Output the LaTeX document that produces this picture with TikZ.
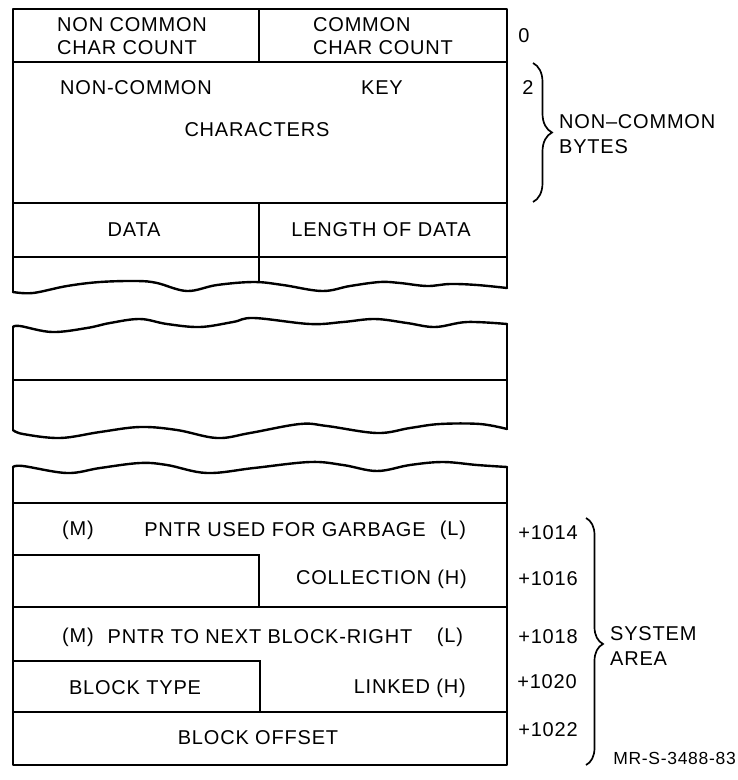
\documentclass[tikz,border=0pt]{standalone}
\usepackage{fontspec}
\setmainfont{Liberation Sans}[LetterSpace=4]
\usetikzlibrary{decorations.pathreplacing}

\newcommand{\lblfont}{\fontsize{20}{23}\selectfont}
\tikzset{
  frame/.style={line width=2.4pt, line cap=round, line join=round},
  rule/.style={line width=1.6pt},
  lbl/.style={font=\lblfont, inner sep=0pt},
  note/.style={lbl, align=left, anchor=west},
  bracer/.style={line width=1.7pt, decorate, decoration={brace, amplitude=#1}},
}

\begin{document}
\begin{tikzpicture}[x=1pt, y=-1pt]
\useasboundingbox (0,0) rectangle (738,780);

% upper piece of the block
\draw[frame] (13,292) -- (13,9) -- (507,9) -- (507,288);
\draw[frame] plot[smooth, tension=.6] coordinates {(13,292) (33,293) (67,286) (100,282) (137,281) (157,283) (187,291) (217,285) (254,282) (283,285) (322,291) (350,286) (380,282) (400,283) (427,286) (450,284) (477,285) (507,288)};
\draw[rule] (13,62) -- (507,62);
\draw[rule] (259,9) -- (259,62);
\draw[rule] (13,203) -- (507,203);
\draw[rule] (13,257) -- (507,257);
\draw[rule] (259,203) -- (259,283);

\node[note] (ncount) at (57,36.5) {NON COMMON\\CHAR COUNT};
\node[note] (ccount) at (313,36.5) {COMMON\\CHAR COUNT};
\node[lbl] (nckey) at (136,88) {NON-COMMON};
\node[lbl] (key) at (382,88) {KEY};
\node[lbl] (chars) at (257,130) {CHARACTERS};
\node[lbl] (data) at (134,230) {DATA};
\node[lbl] (dlen) at (381,230) {LENGTH OF DATA};

\node[lbl] (off0) at (524,36) {0};
\node[lbl] (off2) at (528,88) {2};
\draw[bracer=19pt] (533,63) -- (533,202);
\node[note] (ncbytes) at (559,134.5) {NON–COMMON\\[2pt]BYTES};

% middle piece
\draw[frame] plot[smooth, tension=.6] coordinates {(13,327) (20,326) (52,332) (87,328) (110,323) (140,319) (167,324) (200,327) (233,322) (254,318) (310,324) (343,322) (375,319) (407,323) (435,327) (467,322) (507,324)};
\draw[frame] (13,327) -- (13,430);
\draw[frame] (507,324) -- (507,429);
\draw[rule] (13,380) -- (507,380);
\draw[frame] plot[smooth, tension=.6] coordinates {(13,430) (23,434) (60,438) (100,432) (140,427) (177,430) (217,438) (250,433) (300,424) (327,426) (377,433) (410,428) (440,424) (480,424) (507,429)};

% lower piece, system area
\draw[frame] plot[smooth, tension=.6] coordinates {(13,467) (23,466) (67,473) (100,468) (140,463) (167,465) (207,473) (254,468) (310,462) (343,465) (377,471) (410,465) (443,462) (477,465) (507,467)};
\draw[frame] (13,467) -- (13,765) -- (507,765) -- (507,467);
\draw[rule] (13,503) -- (507,503);
\draw[rule] (13,555) -- (259,555) -- (259,607);
\draw[rule] (13,607) -- (507,607);
\draw[rule] (13,661) -- (260,661) -- (260,712);
\draw[rule] (13,712) -- (507,712);

\node[lbl] (gm) at (78,530) {(M)};
\node[lbl] (gptr) at (285,530) {PNTR USED FOR GARBAGE};
\node[lbl] (gl) at (453,530) {(L)};
\node[lbl, anchor=east] (coll) at (467,579) {COLLECTION (H)};
\node[lbl] (nm) at (78,637) {(M)};
\node[lbl] (nptr) at (260,637) {PNTR TO NEXT BLOCK-RIGHT};
\node[lbl] (nl) at (450,637) {(L)};
\node[lbl] (btype) at (135,688) {BLOCK TYPE};
\node[lbl, anchor=east] (linked) at (466,688) {LINKED (H)};
\node[lbl] (boff) at (258,738) {BLOCK OFFSET};

\node[lbl] (o1014) at (548,533) {+1014};
\node[lbl] (o1016) at (548,579) {+1016};
\node[lbl] (o1018) at (548,637) {+1018};
\node[lbl] (o1020) at (547,682) {+1020};
\node[lbl] (o1022) at (548,730) {+1022};
\draw[bracer=17pt, decoration={aspect=0.51}] (586,518) -- (586,765);
\node[note] (sysarea) at (610,646.5) {SYSTEM\\[2pt]AREA};

\node[lbl, font=\fontsize{17.5}{20}\selectfont, anchor=east] (figid) at (736,758) {MR-S-3488-83};
\end{tikzpicture}
\end{document}
